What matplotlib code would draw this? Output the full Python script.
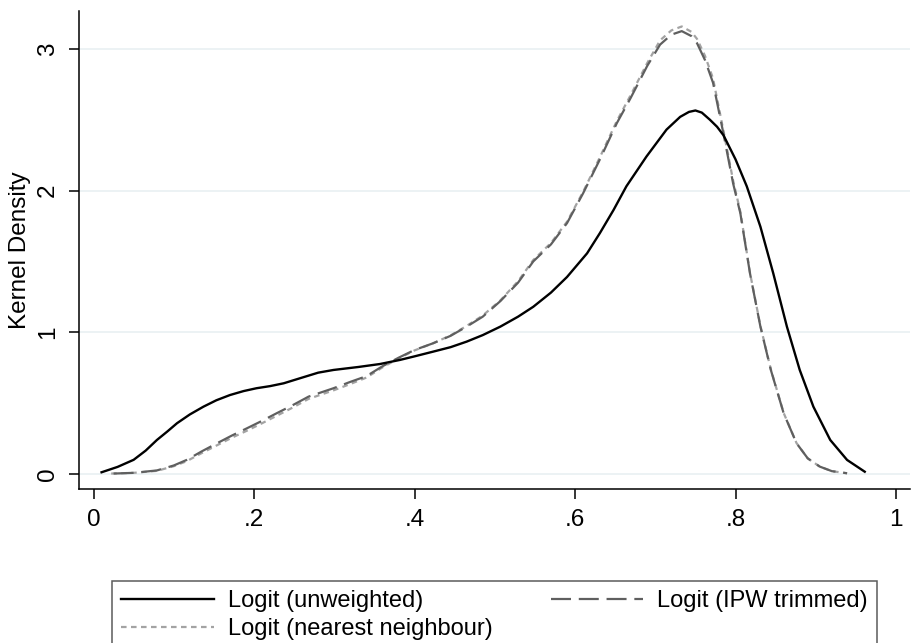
import matplotlib
matplotlib.use("Agg")
import matplotlib.pyplot as plt

plt.rcParams['font.family'] = ['Liberation Sans', 'DejaVu Sans']

# Logit (unweighted)
x_unw = [0.010, 0.030, 0.050, 0.065, 0.079, 0.092, 0.104, 0.120, 0.137, 0.153,
         0.170, 0.187, 0.203, 0.220, 0.237, 0.257, 0.280, 0.299, 0.330, 0.357,
         0.382, 0.400, 0.423, 0.445, 0.465, 0.485, 0.507, 0.529, 0.548, 0.570,
         0.590, 0.615, 0.631, 0.648, 0.664, 0.689, 0.714, 0.731, 0.742, 0.750,
         0.758, 0.768, 0.777, 0.785, 0.800, 0.814, 0.831, 0.847, 0.864, 0.880,
         0.897, 0.918, 0.939, 0.961]
y_unw = [0.012, 0.050, 0.100, 0.165, 0.240, 0.300, 0.358, 0.420, 0.475, 0.520,
         0.557, 0.585, 0.605, 0.620, 0.640, 0.675, 0.715, 0.734, 0.755, 0.776,
         0.805, 0.830, 0.863, 0.895, 0.934, 0.980, 1.040, 1.110, 1.180, 1.280,
         1.390, 1.557, 1.700, 1.863, 2.030, 2.240, 2.430, 2.520, 2.555, 2.565,
         2.550, 2.500, 2.450, 2.390, 2.220, 2.030, 1.745, 1.416, 1.040, 0.734,
         0.475, 0.240, 0.099, 0.016]

# Logit (IPW trimmed)
x_ipw = [0.025, 0.050, 0.079, 0.100, 0.116, 0.135, 0.154, 0.172, 0.191, 0.210,
         0.228, 0.248, 0.268, 0.299, 0.320, 0.340, 0.360, 0.380, 0.400, 0.423,
         0.445, 0.465, 0.485, 0.507, 0.529, 0.548, 0.570, 0.590, 0.610, 0.631,
         0.652, 0.669, 0.690, 0.706, 0.720, 0.733, 0.745, 0.752, 0.762, 0.772,
         0.785, 0.797, 0.806, 0.818, 0.831, 0.844, 0.860, 0.876, 0.890, 0.905,
         0.920, 0.939]
y_ipw = [0.003, 0.008, 0.025, 0.060, 0.099, 0.160, 0.217, 0.270, 0.322, 0.375,
         0.428, 0.485, 0.546, 0.605, 0.650, 0.690, 0.760, 0.820, 0.875, 0.922,
         0.975, 1.040, 1.110, 1.220, 1.350, 1.500, 1.620, 1.770, 1.980, 2.220,
         2.475, 2.650, 2.880, 3.030, 3.100, 3.125, 3.090, 3.040, 2.920, 2.760,
         2.400, 2.050, 1.840, 1.416, 1.040, 0.734, 0.428, 0.217, 0.110, 0.052,
         0.020, 0.005]

# Logit (nearest neighbour)
x_nn = [0.022, 0.050, 0.079, 0.100, 0.116, 0.135, 0.154, 0.172, 0.191, 0.210,
        0.228, 0.248, 0.268, 0.299, 0.320, 0.340, 0.360, 0.380, 0.400, 0.423,
        0.445, 0.465, 0.485, 0.507, 0.529, 0.548, 0.570, 0.590, 0.610, 0.631,
        0.652, 0.669, 0.690, 0.706, 0.720, 0.733, 0.745, 0.752, 0.762, 0.772,
        0.785, 0.797, 0.806, 0.818, 0.831, 0.844, 0.860, 0.876, 0.890, 0.905,
        0.920, 0.939]
y_nn = [0.003, 0.008, 0.022, 0.055, 0.090, 0.148, 0.203, 0.255, 0.305, 0.358,
        0.410, 0.468, 0.530, 0.590, 0.635, 0.680, 0.752, 0.815, 0.872, 0.922,
        0.978, 1.045, 1.118, 1.225, 1.360, 1.510, 1.630, 1.780, 1.990, 2.235,
        2.490, 2.670, 2.900, 3.060, 3.130, 3.158, 3.120, 3.070, 2.950, 2.790,
        2.420, 2.070, 1.850, 1.420, 1.045, 0.738, 0.430, 0.218, 0.110, 0.052,
        0.020, 0.005]

x_ticks = [0, 0.2, 0.4, 0.6, 0.8, 1]
x_ticklabels = ['0', '.2', '.4', '.6', '.8', '1']
y_ticks = [0, 1, 2, 3]
y_ticklabels = ['0', '1', '2', '3']

W, H = 912, 643
fig = plt.figure(figsize=(W / 100, H / 100), dpi=100)
ax = fig.add_axes([79 / W, 1 - 489 / H, (910 - 79) / W, (489 - 11) / H])

l1, = ax.plot(x_unw, y_unw, color='black', lw=1.7, solid_joinstyle='round',
              label='Logit (unweighted)', zorder=3)
l3, = ax.plot(x_nn, y_nn, color='#a3a3a3', lw=1.6, dashes=(2.5, 2.0),
              label='Logit (nearest neighbour)', zorder=2)
l2, = ax.plot(x_ipw, y_ipw, color='#5f5f5f', lw=1.6, dashes=(9, 3.5),
              label='Logit (IPW trimmed)', zorder=2.5)

ax.set_xlim(-0.0181, 1.0174)
ax.set_ylim(-0.106, 3.267)
ax.set_xticks(x_ticks)
ax.set_xticklabels(x_ticklabels)
ax.set_yticks(y_ticks)
ax.set_yticklabels(y_ticklabels, rotation=90, va='center')

ax.grid(axis='y', color='#eaf1f3', lw=1.3, zorder=0)
ax.set_axisbelow(True)
for s in ['top', 'right']:
    ax.spines[s].set_visible(False)
for s in ['left', 'bottom']:
    ax.spines[s].set_linewidth(1.1)
    ax.spines[s].set_color('black')
ax.tick_params(axis='both', length=7.5, width=1.1, labelsize=17.5, pad=7)
ax.set_ylabel('Kernel Density', fontsize=17.5, labelpad=4)

leg = fig.legend(handles=[l1, l3, l2], loc='upper left', ncol=2,
                 bbox_to_anchor=(112 / W, 1 - 637 / H, (877 - 112) / W, 56 / H),
                 mode='expand', frameon=True, fancybox=False, fontsize=17,
                 handlelength=3.9, handletextpad=0.6, borderaxespad=0,
                 borderpad=0.4, labelspacing=0.25, columnspacing=1.0)
leg.get_frame().set_edgecolor('#333333')
leg.get_frame().set_linewidth(1.1)

fig.savefig('out.png', dpi=100)
